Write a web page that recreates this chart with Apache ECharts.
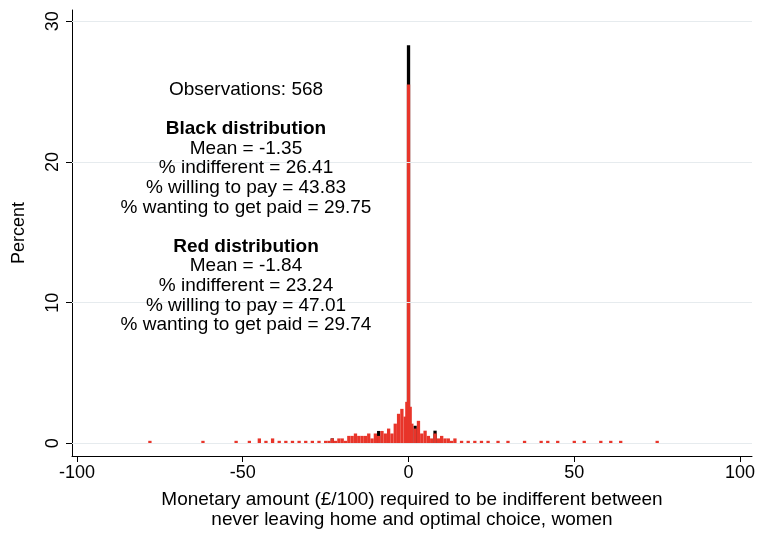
<!DOCTYPE html>
<html><head><meta charset="utf-8">
<script src="https://cdn.jsdelivr.net/npm/echarts@6/dist/echarts.min.js"></script>
<style>html,body{margin:0;background:#fff}#c{width:762px;height:535px}</style>
</head><body><div id="c"></div>
<script>
// bin centres (monetary amount) and percent heights
const redX = [-78,-62,-52,-48,-45,-43,-41,-39,-37,-35,-33,-31,-29,-27,-25,-24,-23,-22,-21,-20,-19,-18,-17,-16,-15,-14,-13,-12,-11,-10,-9,-8,-7,-6,-5,-4,-3,-2,-1,-0.5,0,0.5,1,2,3,4,5,6,7,8,9,10,11,12,13,14,16,18,20,22,24,27,30,35,40,42,45,50,53,58,61,64,75]
const redY = [0.18,0.18,0.18,0.18,0.35,0.18,0.35,0.18,0.18,0.18,0.18,0.18,0.18,0.18,0.18,0.18,0.35,0.18,0.35,0.35,0.18,0.53,0.53,0.7,0.53,0.53,0.53,0.7,0.35,0.7,0.53,0.88,0.7,1.05,0.7,1.4,2.1,2.45,1.9,2.95,25.5,2.6,1.4,1.05,1.6,0.7,0.9,0.53,0.35,0.7,0.35,0.53,0.35,0.35,0.18,0.35,0.18,0.18,0.18,0.18,0.18,0.18,0.18,0.18,0.18,0.18,0.18,0.18,0.18,0.18,0.18,0.18,0.18]
const blackX = [-23,-9,0,2,8]
const blackY = [0.35,0.88,28.3,1.25,0.9]
const xTicks = [-100,-50,0,50,100]
const yTicks = [0,10,20,30]
const notes = ['Observations: 568','','{b|Black distribution}','Mean = -1.35','% indifferent = 26.41','% willing to pay = 43.83','% wanting to get paid = 29.75','','{b|Red distribution}','Mean = -1.84','% indifferent = 23.24','% willing to pay = 47.01','% wanting to get paid = 29.74']

const chart = echarts.init(document.getElementById('c'))
const font = 'Liberation Sans, Arial, sans-serif'
chart.setOption({
  animation: false,
  grid: {left: 72, right: 10, top: 10, bottom: 75},
  xAxis: {
    type: 'value', min: -101.5, max: 103.6,
    axisLine: {show: true, onZero: false, lineStyle: {color: '#000'}},
    axisTick: {show: true, length: 6, customValues: xTicks, lineStyle: {color: '#000'}},
    axisLabel: {customValues: xTicks, color: '#000', fontSize: 18, fontFamily: font, margin: 8},
    splitLine: {show: false},
    name: 'Monetary amount (£/100) required to be indifferent between\nnever leaving home and optimal choice, women',
    nameLocation: 'middle', nameGap: 34,
    nameTextStyle: {color: '#000', fontSize: 19, fontFamily: font, lineHeight: 20}
  },
  yAxis: {
    type: 'value', min: -0.9, max: 30.8,
    axisLine: {show: true, onZero: false, lineStyle: {color: '#000'}},
    axisTick: {show: true, length: 6, customValues: yTicks, lineStyle: {color: '#000'}},
    axisLabel: {customValues: yTicks, color: '#000', fontSize: 18, fontFamily: font, rotate: 90, margin: 10},
    splitLine: {show: false},
    name: 'Percent', nameLocation: 'middle', nameGap: 44,
    nameTextStyle: {color: '#000', fontSize: 18, fontFamily: font}
  },
  series: [
    {type: 'bar', barWidth: 3.3, barGap: '-100%', itemStyle: {color: '#000'},
     data: blackX.map((x, i) => [x, blackY[i]]),
     markLine: {silent: true, symbol: 'none', label: {show: false},
       lineStyle: {color: '#e6ebee', type: 'solid', width: 1},
       data: yTicks.map(v => ({yAxis: v}))}},
    {type: 'bar', barWidth: 3.3, barGap: '-100%', itemStyle: {color: '#e8352a'},
     data: redX.map((x, i) => [x, redY[i]])}
  ],
  graphic: [{
    type: 'text', x: 246, y: 80, z: 10,
    style: {text: notes.join('\n'), fill: '#000', font: '19px ' + font, lineHeight: 19.6, align: 'center', verticalAlign: 'top',
      rich: {b: {fontWeight: 'bold', fontSize: 19, fontFamily: font, lineHeight: 19.6}}}
  }]
})
</script></body></html>
